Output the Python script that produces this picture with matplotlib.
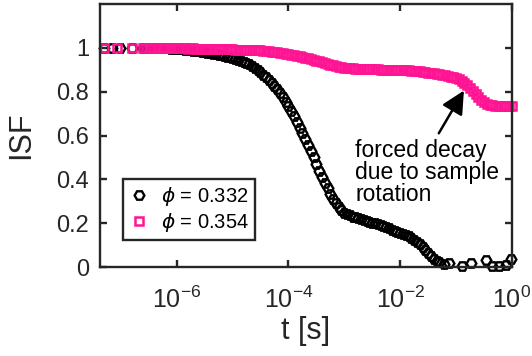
import numpy as np
import matplotlib
matplotlib.use('Agg')
import matplotlib.pyplot as plt

plt.rcParams['font.family'] = ['Liberation Sans', 'DejaVu Sans']
plt.rcParams['mathtext.fontset'] = 'custom'
plt.rcParams['mathtext.rm'] = 'Liberation Sans'
plt.rcParams['mathtext.it'] = 'DejaVu Sans:italic'

# phi = 0.354 (magenta squares), log10 of lag time [s]
pink_logt = [-7.29, -7.07, -6.80,
             -6.60, -6.55, -6.50, -6.45, -6.40, -6.35, -6.30, -6.25, -6.20, -6.15,
             -6.10, -6.05, -6.00, -5.95, -5.90, -5.85, -5.80, -5.75, -5.70, -5.65,
             -5.60, -5.55, -5.50, -5.45, -5.40, -5.35, -5.30, -5.25, -5.20, -5.15,
             -5.10, -5.05, -5.00, -4.95, -4.90, -4.85, -4.80, -4.75, -4.70, -4.65,
             -4.60, -4.55, -4.50, -4.45, -4.40, -4.35, -4.30, -4.25, -4.20, -4.15,
             -4.10, -4.05, -4.00, -3.95, -3.90, -3.85, -3.80, -3.75, -3.70, -3.65,
             -3.60, -3.55, -3.50, -3.45, -3.40, -3.35, -3.30, -3.25, -3.20, -3.15,
             -3.10, -3.05, -3.00, -2.95, -2.90, -2.85, -2.80, -2.75, -2.70, -2.65,
             -2.60, -2.55, -2.50, -2.45, -2.40, -2.35, -2.30, -2.25, -2.20, -2.15,
             -2.10, -2.05, -2.00, -1.95, -1.90, -1.85, -1.80, -1.75, -1.70, -1.65,
             -1.60, -1.55, -1.50, -1.45, -1.40, -1.35, -1.30, -1.25, -1.20, -1.15,
             -1.10, -1.05, -1.00, -0.95, -0.90, -0.85, -0.80, -0.75, -0.70, -0.65,
             -0.60, -0.55, -0.50, -0.45, -0.40, -0.35, -0.30, -0.25, -0.20, -0.15,
             -0.10, -0.05, 0.00]
pink_isf = [1.000, 0.998, 1.000,
            1.000, 0.999, 0.998, 1.000, 1.000, 0.999, 0.999, 0.998, 0.998, 0.999,
            0.999, 0.998, 0.997, 0.998, 0.998, 0.997, 0.996, 0.997, 0.997, 0.996,
            0.996, 0.995, 0.995, 0.995, 0.995, 0.994, 0.994, 0.994, 0.994, 0.993,
            0.993, 0.993, 0.993, 0.992, 0.992, 0.991, 0.991, 0.990, 0.990, 0.989,
            0.989, 0.988, 0.988, 0.987, 0.986, 0.984, 0.983, 0.981, 0.980, 0.978,
            0.976, 0.974, 0.972, 0.969, 0.967, 0.964, 0.961, 0.958, 0.955, 0.952,
            0.949, 0.945, 0.942, 0.938, 0.935, 0.931, 0.927, 0.923, 0.920, 0.917,
            0.914, 0.912, 0.910, 0.908, 0.907, 0.906, 0.905, 0.904, 0.904, 0.903,
            0.903, 0.902, 0.902, 0.902, 0.902, 0.901, 0.901, 0.900, 0.900, 0.900,
            0.900, 0.899, 0.899, 0.898, 0.898, 0.897, 0.896, 0.895, 0.894, 0.893,
            0.891, 0.889, 0.887, 0.886, 0.884, 0.882, 0.879, 0.877, 0.874, 0.871,
            0.868, 0.865, 0.861, 0.856, 0.849, 0.840, 0.830, 0.817, 0.803, 0.789,
            0.776, 0.764, 0.753, 0.745, 0.740, 0.737, 0.736, 0.735, 0.735, 0.735,
            0.735, 0.735, 0.735]

# phi = 0.332 (black hexagons)
black_logt = [-7.29, -7.16, -7.02, -6.80,
              -6.60, -6.55, -6.50, -6.45, -6.40, -6.35, -6.30, -6.25, -6.20, -6.15,
              -6.10, -6.05, -6.00, -5.95, -5.90, -5.85, -5.80, -5.75, -5.70, -5.65,
              -5.60, -5.55, -5.50, -5.45, -5.40, -5.35, -5.30, -5.25, -5.20, -5.15,
              -5.10, -5.05, -5.00, -4.95, -4.90, -4.85, -4.80, -4.75, -4.70, -4.65,
              -4.60, -4.55, -4.50, -4.45, -4.40, -4.35, -4.30, -4.25, -4.20, -4.15,
              -4.10, -4.05, -4.00, -3.95, -3.90, -3.85, -3.80, -3.75, -3.70, -3.65,
              -3.60, -3.55, -3.50, -3.45, -3.40, -3.35, -3.30, -3.25, -3.20, -3.15,
              -3.10, -3.05, -3.00, -2.95, -2.90, -2.85, -2.80, -2.75, -2.70, -2.65,
              -2.60, -2.55, -2.50, -2.45, -2.40, -2.35, -2.30, -2.25, -2.20, -2.15,
              -2.10, -2.05, -2.00, -1.95, -1.90, -1.85, -1.80, -1.75, -1.70, -1.65,
              -1.60, -1.55, -1.50, -1.45, -1.40, -1.35, -1.30,
              -1.22, -1.12, -0.89, -0.73, -0.46, -0.36, -0.23, -0.10, -0.02]
black_isf = [1.000, 1.000, 1.000, 0.998,
             1.000, 0.999, 0.999, 1.000, 1.000, 0.998, 0.998, 0.997, 0.997, 0.997,
             0.996, 0.995, 0.995, 0.994, 0.993, 0.992, 0.990, 0.989, 0.987, 0.986,
             0.984, 0.982, 0.980, 0.978, 0.976, 0.974, 0.971, 0.969, 0.966, 0.963,
             0.960, 0.957, 0.954, 0.950, 0.946, 0.942, 0.937, 0.931, 0.925, 0.918,
             0.910, 0.900, 0.890, 0.878, 0.866, 0.853, 0.840, 0.825, 0.810, 0.793,
             0.775, 0.755, 0.735, 0.712, 0.688, 0.662, 0.636, 0.610, 0.584, 0.557,
             0.530, 0.500, 0.470, 0.440, 0.410, 0.385, 0.360, 0.335, 0.310, 0.290,
             0.272, 0.259, 0.248, 0.241, 0.235, 0.230, 0.226, 0.222, 0.218, 0.214,
             0.210, 0.207, 0.203, 0.199, 0.195, 0.191, 0.186, 0.181, 0.176, 0.171,
             0.166, 0.161, 0.155, 0.150, 0.145, 0.140, 0.133, 0.125, 0.115, 0.103,
             0.090, 0.076, 0.062, 0.050, 0.038, 0.029, 0.022,
             0.015, 0.020, 0.005, 0.020, 0.030, 0.005, 0.005, 0.010, 0.035]

labels = [r'$\phi$ = 0.332', r'$\phi$ = 0.354']
xticks = [1e-6, 1e-4, 1e-2, 1e0]
xticklabels = [r'$\mathregular{10^{-6}}$', r'$\mathregular{10^{-4}}$',
               r'$\mathregular{10^{-2}}$', r'$\mathregular{10^{0}}$']
yticks = [0, 0.2, 0.4, 0.6, 0.8, 1]
yticklabels = ['0', '0.2', '0.4', '0.6', '0.8', '1']
note = 'forced decay\ndue to sample\nrotation'

W, H = 532, 356
fig = plt.figure(figsize=(W / 100, H / 100), dpi=100)
ax = fig.add_axes([100 / W, (H - 267) / H, 412 / W, 263 / H])

pink = '#ff1493'
axcol = '#262626'

ax.plot(10 ** np.array(black_logt), black_isf, linestyle='none', marker='H',
        markersize=7, markerfacecolor='none', markeredgecolor='black',
        markeredgewidth=1.7, clip_on=False, label=labels[0])
ax.plot(10 ** np.array(pink_logt), pink_isf, linestyle='none', marker='s',
        markersize=6, markerfacecolor='none', markeredgecolor=pink,
        markeredgewidth=1.8, clip_on=False, label=labels[1])

ax.set_xscale('log')
ax.set_xlim(10 ** -7.37, 1)
ax.set_ylim(0, 1.2)
ax.set_xticks(xticks)
ax.set_xticklabels(xticklabels)
ax.minorticks_off()
ax.set_yticks(yticks)
ax.set_yticklabels(yticklabels)

for s in ax.spines.values():
    s.set_linewidth(1.7)
    s.set_color(axcol)
ax.tick_params(direction='in', length=5, width=1.7, color=axcol,
               top=True, right=True, labelcolor=axcol)
ax.tick_params(axis='x', pad=14, labelsize=18)
ax.tick_params(axis='y', pad=8, labelsize=17)

ax.set_xlabel('t [s]', fontsize=22, color=axcol, labelpad=2)
ax.set_ylabel('ISF', fontsize=22, color=axcol, labelpad=14)

leg = ax.legend(loc='upper left', bbox_to_anchor=(0.056, 0.335),
                borderaxespad=0, fancybox=False, fontsize=14.5,
                handlelength=1.0, handletextpad=0.6, borderpad=0.3,
                labelspacing=0.15, framealpha=1)
leg.get_frame().set_edgecolor(axcol)
leg.get_frame().set_linewidth(1.7)

ax.text(10 ** -2.8, 0.585, note, fontsize=16.5, color='black',
        ha='left', va='top', linespacing=0.95)
ax.annotate('', xy=(10 ** -0.86, 0.805), xytext=(10 ** -1.31, 0.61),
            arrowprops=dict(arrowstyle='-|>,head_length=0.7,head_width=0.35',
                            color='black', lw=1.8, mutation_scale=20,
                            shrinkA=0, shrinkB=0))

fig.savefig('out.png', dpi=100)
